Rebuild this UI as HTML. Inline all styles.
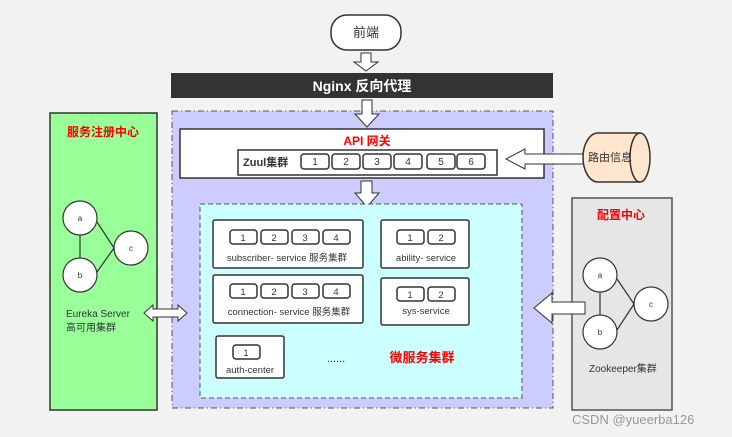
<!DOCTYPE html>
<html><head><meta charset="utf-8"><style>
body{margin:0;background:#f2f2f2}
svg{display:block;font-family:"Liberation Sans","Noto Sans CJK SC",sans-serif}
</style></head><body>
<svg width="732" height="437" viewBox="0 0 732 437">
<rect width="732" height="437" fill="#f2f2f2"/>
<rect x="331" y="15" width="70" height="35" rx="16" fill="#fff" stroke="#333" stroke-width="1.5"/>
<text x="366" y="37" font-size="13" fill="#333" text-anchor="middle">前端</text>
<path d="M361,53 h10 v9 h7 l-12,9 l-12,-9 h7 z" fill="#fff" stroke="#333"/>
<rect x="171" y="73" width="382" height="25" fill="#333"/>
<text x="362" y="91" font-size="14" font-weight="bold" fill="#fff" text-anchor="middle">Nginx 反向代理</text>
<rect x="172" y="111" width="381" height="297" fill="#ccccff" stroke="#555" stroke-dasharray="6,3,1,3"/>
<path d="M362,100 h10 v14 h7 l-12,13 l-12,-13 h7 z" fill="#fff" stroke="#333"/>
<rect x="180" y="129" width="364" height="49" fill="#fff" stroke="#333" stroke-width="1.5"/>
<text x="367" y="145" font-size="12" font-weight="bold" fill="#f00" text-anchor="middle">API 网关</text>
<rect x="238" y="150" width="259" height="25" fill="#fff" stroke="#333" stroke-width="1.5"/>
<text x="243" y="166" font-size="11" font-weight="bold" fill="#333">Zuul集群</text>
<g fill="#fff" stroke="#333" stroke-width="1.5">
<rect x="301" y="154" width="28" height="15" rx="3"/><rect x="332" y="154" width="28" height="15" rx="3"/>
<rect x="363" y="154" width="28" height="15" rx="3"/><rect x="394" y="154" width="28" height="15" rx="3"/>
<rect x="427" y="154" width="28" height="15" rx="3"/><rect x="457" y="154" width="28" height="15" rx="3"/>
</g>
<g font-size="10" fill="#333" text-anchor="middle">
<text x="315" y="165">1</text><text x="346" y="165">2</text><text x="377" y="165">3</text><text x="408" y="165">4</text><text x="441" y="165">5</text><text x="471" y="165">6</text>
</g>
<path d="M583,154 h-58 v-5 l-19,10 l19,10 v-5 h58 z" fill="#fff" stroke="#333"/>
<path d="M598,133 h42 a10,24.5 0 0 1 0,49 h-42 a15,24.5 0 0 1 0,-49 z" fill="#ffe6cc" stroke="#333" stroke-width="1.5"/>
<path d="M640,133 a10,24.5 0 0 0 0,49" fill="none" stroke="#333" stroke-width="1.5"/>
<text x="610" y="161" font-size="11" fill="#333" text-anchor="middle">路由信息</text>
<path d="M361,181 h11 v12 h7 l-12,14 l-12,-14 h6 z" fill="#fff" stroke="#333"/>
<rect x="200" y="204" width="322" height="194" fill="#ccffff" stroke="#555" stroke-dasharray="5,3"/>
<g fill="#fff" stroke="#333" stroke-width="1.5">
<rect x="213" y="220" width="150" height="48" rx="2"/>
<rect x="381" y="220" width="88" height="48" rx="2"/>
<rect x="213" y="275" width="150" height="48" rx="2"/>
<rect x="381" y="278" width="88" height="47" rx="2"/>
<rect x="216" y="336" width="68" height="42" rx="2"/>
<rect x="230" y="230" width="27" height="14" rx="3"/><rect x="261" y="230" width="27" height="14" rx="3"/>
<rect x="292" y="230" width="27" height="14" rx="3"/><rect x="323" y="230" width="27" height="14" rx="3"/>
<rect x="397" y="230" width="27" height="14" rx="3"/><rect x="428" y="230" width="27" height="14" rx="3"/>
<rect x="230" y="284" width="27" height="14" rx="3"/><rect x="261" y="284" width="27" height="14" rx="3"/>
<rect x="292" y="284" width="27" height="14" rx="3"/><rect x="323" y="284" width="27" height="14" rx="3"/>
<rect x="397" y="287" width="27" height="14" rx="3"/><rect x="428" y="287" width="27" height="14" rx="3"/>
<rect x="233" y="345" width="27" height="14" rx="3"/>
</g>
<g font-size="9.5" fill="#333" text-anchor="middle">
<text x="243" y="241">1</text><text x="274" y="241">2</text><text x="305" y="241">3</text><text x="336" y="241">4</text>
<text x="410" y="241">1</text><text x="441" y="241">2</text>
<text x="243" y="295">1</text><text x="274" y="295">2</text><text x="305" y="295">3</text><text x="336" y="295">4</text>
<text x="410" y="298">1</text><text x="441" y="298">2</text>
<text x="246" y="356">1</text>
<text x="287" y="261">subscriber- service  服务集群</text>
<text x="426" y="261">ability- service</text>
<text x="289" y="315">connection- service  服务集群</text>
<text x="426" y="314">sys-service</text>
<text x="250" y="373">auth-center</text>
<text x="336" y="362" font-size="11">......</text>
</g>
<text x="422" y="362" font-size="13" font-weight="bold" fill="#f00" text-anchor="middle">微服务集群</text>
<rect x="50" y="113" width="107" height="297" fill="#99ff99" stroke="#333" stroke-width="1.5"/>
<text x="103" y="136" font-size="12" font-weight="bold" fill="#f00" text-anchor="middle">服务注册中心</text>
<g stroke="#333" stroke-width="1.2"><line x1="80" y1="235" x2="80" y2="258"/><line x1="97" y1="222" x2="114" y2="248"/><line x1="97" y1="272" x2="114" y2="248"/></g>
<g fill="#fff" stroke="#333" stroke-width="1.2">
<circle cx="80" cy="218" r="17"/><circle cx="80" cy="275" r="17"/><circle cx="131" cy="248" r="17"/></g>
<g font-size="8" fill="#333" text-anchor="middle"><text x="80" y="221">a</text><text x="80" y="278">b</text><text x="131" y="251">c</text></g>
<text x="66" y="317" font-size="10" fill="#333">Eureka Server</text>
<text x="66" y="331" font-size="10" fill="#333">高可用集群</text>
<path d="M144,313 l9,-8 v4 h25 v-4 l9,8 l-9,8 v-4 h-25 v4 z" fill="#fff" stroke="#333"/>
<rect x="572" y="198" width="100" height="212" fill="#e6e6e6" stroke="#555" stroke-width="1.5"/>
<text x="621" y="219" font-size="12" font-weight="bold" fill="#f00" text-anchor="middle">配置中心</text>
<path d="M585,302 h-33 v-9 l-18,15 l18,15 v-9 h33 z" fill="#fff" stroke="#333"/>
<g stroke="#333" stroke-width="1.2"><line x1="600" y1="292" x2="600" y2="315"/><line x1="617" y1="279" x2="634" y2="304"/><line x1="617" y1="330" x2="634" y2="304"/></g>
<g fill="#fff" stroke="#333" stroke-width="1.2">
<circle cx="600" cy="275" r="17"/><circle cx="600" cy="332" r="17"/><circle cx="651" cy="304" r="17"/></g>
<g font-size="8" fill="#333" text-anchor="middle"><text x="600" y="278">a</text><text x="600" y="335">b</text><text x="651" y="307">c</text></g>
<text x="589" y="372" font-size="10" fill="#333">Zookeeper集群</text>
<text x="572" y="424" font-size="13" fill="#999">CSDN @yueerba126</text>
</svg>
</body></html>
